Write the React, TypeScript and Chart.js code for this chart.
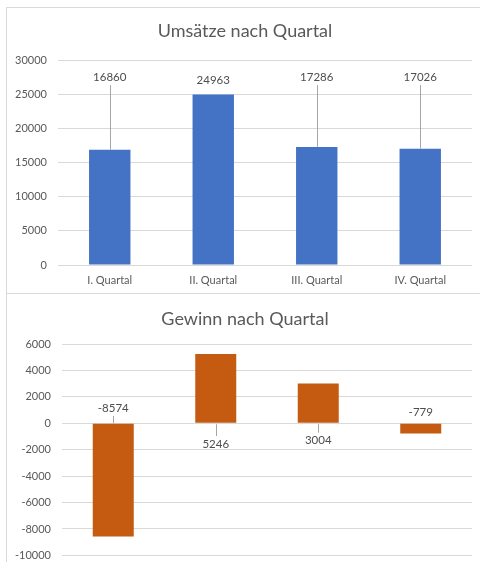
import React, { useEffect, useRef } from "react";
import { Chart, registerables } from "chart.js";

Chart.register(...registerables);

const QUARTERS = ["I. Quartal", "II. Quartal", "III. Quartal", "IV. Quartal"];
const UMSATZ = [16860, 24963, 17286, 17026];
const GEWINN = [-8574, 5246, 3004, -779];
const TITLE_TOP = "Umsätze nach Quartal";
const TITLE_BOTTOM = "Gewinn nach Quartal";

const FONT = "Lato, 'Open Sans', sans-serif";
const GRID = "#d9d9d9";
const TEXT = "#595959";

const titlePlugin = {
  id: "fixedTitle",
  afterDraw(chart: any, _a: any, opts: any) {
    const { ctx } = chart;
    ctx.save();
    ctx.font = `18px ${FONT}`;
    ctx.fillStyle = TEXT;
    ctx.textAlign = "center";
    ctx.textBaseline = "middle";
    ctx.fillText(opts.text, opts.x, opts.y);
    ctx.restore();
  },
};

const barLabels = {
  id: "barLabels",
  afterDatasetsDraw(chart: any, _a: any, opts: any) {
    const { ctx } = chart;
    const meta = chart.getDatasetMeta(0);
    const yScale = chart.scales.y;
    const values = chart.data.datasets[0].data as number[];
    ctx.save();
    ctx.font = `11.5px ${FONT}`;
    ctx.textAlign = "center";
    ctx.textBaseline = "middle";
    meta.data.forEach((el: any, i: number) => {
      const x = Math.round(el.x) + 0.5;
      const ly = yScale.getPixelForValue(opts.at[i]);
      ctx.fillStyle = "#4d4d4d";
      ctx.fillText(String(values[i]), el.x, ly);
      if (opts.leader[i]) {
        const a = yScale.getPixelForValue(values[i]);
        const b = yScale.getPixelForValue(0);
        const top = Math.min(a, b);
        const bot = Math.max(a, b);
        ctx.strokeStyle = "#a6a6a6";
        ctx.lineWidth = 1;
        ctx.beginPath();
        if (ly < top) {
          ctx.moveTo(x, ly + 8);
          ctx.lineTo(x, top);
        } else {
          ctx.moveTo(x, bot + 1);
          ctx.lineTo(x, ly - 8);
        }
        ctx.stroke();
      }
    });
    ctx.restore();
  },
};

function makeConfig(
  values: number[],
  color: string,
  yMin: number,
  yMax: number,
  step: number,
  yWidth: number,
  showX: boolean,
  padding: any,
  title: any,
  labels: any
): any {
  return {
    type: "bar",
    data: {
      labels: QUARTERS,
      datasets: [
        {
          data: values,
          backgroundColor: color,
          borderWidth: 0,
          categoryPercentage: 1,
          barPercentage: 0.4,
        },
      ],
    },
    options: {
      responsive: false,
      animation: false,
      layout: { padding },
      plugins: {
        legend: { display: false },
        tooltip: { enabled: false },
        title: { display: false },
        fixedTitle: title,
        barLabels: labels,
      },
      scales: {
        x: {
          display: showX,
          grid: { display: false, drawTicks: false },
          border: { display: false },
          ticks: { color: TEXT, font: { family: FONT, size: 11 }, padding: 9 },
          afterFit(s: any) {
            s.height = showX ? 28 : 0;
          },
        },
        y: {
          min: yMin,
          max: yMax,
          grid: { color: GRID, drawTicks: false },
          border: { display: false },
          ticks: {
            stepSize: step,
            color: TEXT,
            font: { family: FONT, size: 11 },
            padding: 11,
            callback: (v: any) => String(v),
          },
          afterFit(s: any) {
            s.width = yWidth;
          },
        },
      },
    },
    plugins: [titlePlugin, barLabels],
  };
}

export default function App() {
  const topRef = useRef<HTMLCanvasElement>(null);
  const botRef = useRef<HTMLCanvasElement>(null);

  useEffect(() => {
    const c1 = new Chart(
      topRef.current!,
      makeConfig(
        UMSATZ,
        "#4472C4",
        0,
        30000,
        5000,
        58,
        true,
        { left: 0, top: 60, right: 8, bottom: 0 },
        { text: TITLE_TOP, x: 245, y: 31 },
        { at: [27500, 27050, 27500, 27500], leader: [true, false, true, true] }
      )
    );
    const c2 = new Chart(
      botRef.current!,
      makeConfig(
        GEWINN,
        "#C55A11",
        -10000,
        6000,
        2000,
        62,
        false,
        { left: 0, top: 51, right: 8, bottom: 7 },
        { text: TITLE_BOTTOM, x: 245, y: 26 },
        { at: [1160, -1570, -1320, 800], leader: [true, true, true, false] }
      )
    );
    return () => {
      c1.destroy();
      c2.destroy();
    };
  }, []);

  return (
    <div
      style={{
        position: "absolute",
        left: 0,
        top: 0,
        width: 480,
        height: 562,
        overflow: "hidden",
        background: "#fff",
      }}
    >
      <div
        style={{
          position: "absolute",
          left: 6,
          top: 7,
          width: 500,
          height: 287,
          boxSizing: "border-box",
          border: `1px solid ${GRID}`,
        }}
      />
      <div
        style={{
          position: "absolute",
          left: 6,
          top: 293,
          width: 500,
          height: 300,
          boxSizing: "border-box",
          border: `1px solid ${GRID}`,
        }}
      />
      <canvas
        ref={topRef}
        width={480}
        height={293}
        style={{ position: "absolute", left: 0, top: 0 }}
      />
      <canvas
        ref={botRef}
        width={480}
        height={280}
        style={{ position: "absolute", left: 0, top: 293 }}
      />
    </div>
  );
}
